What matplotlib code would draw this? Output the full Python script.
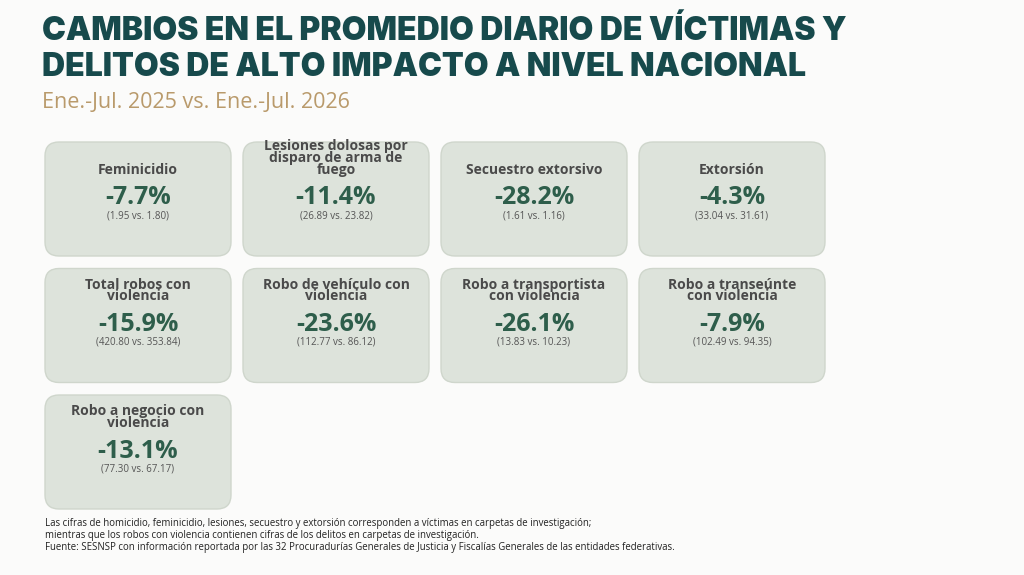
import matplotlib.pyplot as plt
from matplotlib.patches import FancyBboxPatch

plt.rcParams['font.family'] = ['Open Sans', 'DejaVu Sans']

cards = [
    ('Feminicidio', -7.7, 1.95, 1.80),
    ('Lesiones dolosas por\ndisparo de arma de\nfuego', -11.4, 26.89, 23.82),
    ('Secuestro extorsivo', -28.2, 1.61, 1.16),
    ('Extorsión', -4.3, 33.04, 31.61),
    ('Total robos con\nviolencia', -15.9, 420.80, 353.84),
    ('Robo de vehículo con\nviolencia', -23.6, 112.77, 86.12),
    ('Robo a transportista\ncon violencia', -26.1, 13.83, 10.23),
    ('Robo a transeúnte\ncon violencia', -7.9, 102.49, 94.35),
    ('Robo a negocio con\nviolencia', -13.1, 77.30, 67.17),
]

fig = plt.figure(figsize=(10.24, 5.75), dpi=100)
fig.patch.set_facecolor('#fbfbfa')
ax = fig.add_axes([0, 0, 1, 1])
ax.set_xlim(0, 1024)
ax.set_ylim(575, 0)
ax.axis('off')

ax.text(42, 32, 'CAMBIOS EN EL PROMEDIO DIARIO DE VÍCTIMAS Y', fontsize=23,
        fontweight='black', family=['Inter', 'DejaVu Sans'], color='#174a4c', va='center')
ax.text(42, 68, 'DELITOS DE ALTO IMPACTO A NIVEL NACIONAL', fontsize=23,
        fontweight='black', family=['Inter', 'DejaVu Sans'], color='#174a4c', va='center')
ax.text(42, 102, 'Ene.-Jul. 2025 vs. Ene.-Jul. 2026', fontsize=15.5,
        color='#b99a6b', va='center')

w, h = 186, 114
for i, (name, pct, a, b) in enumerate(cards):
    x = 45 + (i % 4) * 198
    y = 142 + (i // 4) * 126.5
    ax.add_patch(FancyBboxPatch((x, y), w, h, boxstyle='round,pad=0,rounding_size=14',
                                fc='#dde3db', ec='#cfd6cc', lw=1))
    cx = x + w / 2
    ax.text(cx, y + 35, name, ha='center', va='bottom', fontsize=10, fontweight='bold',
            color='#4a4a4a', linespacing=0.8)
    ax.text(cx, y + 56, f'{pct:.1f}%', ha='center', va='center', fontsize=18,
            fontweight='bold', color='#2e5e4b')
    ax.text(cx, y + 74, f'({a:.2f} vs. {b:.2f})', ha='center', va='center',
            fontsize=7, color='#555555')

notes = ('Las cifras de homicidio, feminicidio, lesiones, secuestro y extorsión corresponden a víctimas en carpetas de investigación;\n'
         'mientras que los robos con violencia contienen cifras de los delitos en carpetas de investigación.\n'
         'Fuente: SESNSP con información reportada por las 32 Procuradurías Generales de Justicia y Fiscalías Generales de las entidades federativas.')
ax.text(45, 518, notes, fontsize=6.9, va='top', color='#222222', linespacing=1.1,
        family=['Liberation Sans Narrow', 'Open Sans', 'DejaVu Sans'])

fig.savefig('out.png', dpi=100, facecolor=fig.get_facecolor())
